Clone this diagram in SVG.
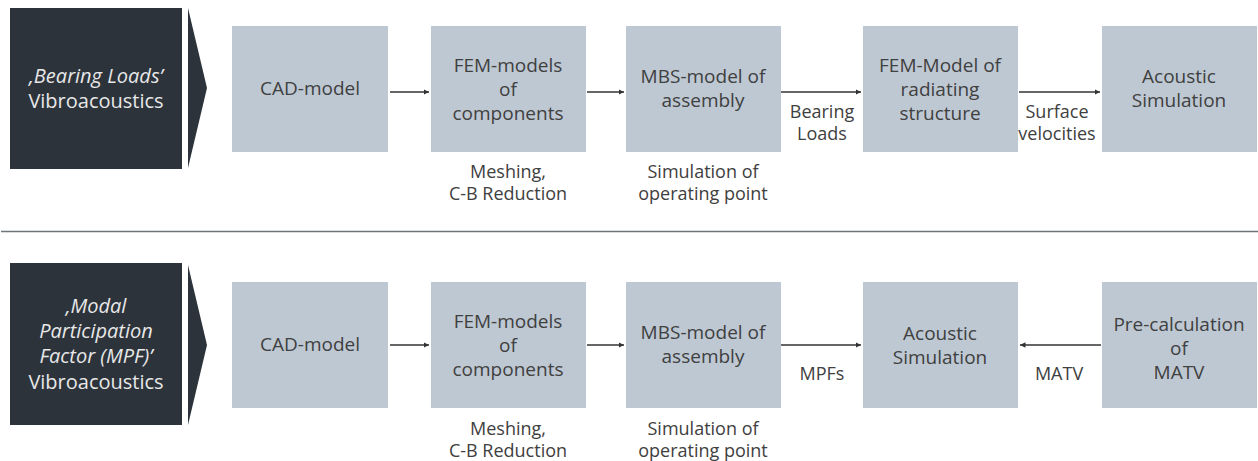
<svg xmlns="http://www.w3.org/2000/svg" width="1258" height="461" viewBox="0 0 1258 461">
<style>
.dark{fill:#2c333b}
.box{fill:#bec8d3}
.bt{font-family:"Open Sans","Noto Sans",sans-serif;font-size:19px;fill:#404040;text-anchor:middle}
.lb{font-family:"Open Sans","Noto Sans",sans-serif;font-size:18px;fill:#404040;text-anchor:middle}
.dt{font-family:"Open Sans","Noto Sans",sans-serif;font-size:20px;fill:#e8e8e8;text-anchor:middle}
.it{font-style:italic}
.conn{stroke:#333;stroke-width:1.5;fill:none;marker-end:url(#ah)}
</style>
<defs>
<marker id="ah" viewBox="0 0 10 10" refX="10" refY="5" markerWidth="5.5" markerHeight="5.5" orient="auto" markerUnits="userSpaceOnUse">
<path d="M0,0 L10,5 L0,10 z" fill="#333"/>
</marker>
</defs>
<rect width="1258" height="461" fill="#fff"/>
<line x1="1" y1="231.5" x2="1258" y2="231.5" stroke="#6e7478" stroke-width="1.5"/>

<!-- Row 1 -->
<g id="row1-header">
<rect class="dark" x="10" y="8" width="172" height="161"/>
<polygon class="dark" points="188,8 207,88 188,168"/>
<text class="dt it" x="96" y="83">‚Bearing Loads’</text>
<text class="dt" x="96" y="108">Vibroacoustics</text>
</g>
<g id="r1-cad">
<rect class="box" x="232" y="26" width="156" height="126"/>
<text class="bt" x="310" y="95">CAD-model</text>
</g>
<g id="r1-fem">
<rect class="box" x="431" y="26" width="155" height="126"/>
<text class="bt" x="508" y="72">FEM-models</text>
<text class="bt" x="508" y="96">of</text>
<text class="bt" x="508" y="120">components</text>
<text class="lb" x="508" y="178">Meshing,</text>
<text class="lb" x="508" y="200">C-B Reduction</text>
</g>
<g id="r1-mbs">
<rect class="box" x="626" y="26" width="155" height="126"/>
<text class="bt" x="703" y="83">MBS-model of</text>
<text class="bt" x="703" y="107">assembly</text>
<text class="lb" x="703" y="178">Simulation of</text>
<text class="lb" x="703" y="200">operating point</text>
</g>
<g id="r1-femrad">
<rect class="box" x="863" y="26" width="155" height="126"/>
<text class="bt" x="940" y="72">FEM-Model of</text>
<text class="bt" x="940" y="96">radiating</text>
<text class="bt" x="940" y="120">structure</text>
</g>
<g id="r1-acoustic">
<rect class="box" x="1102" y="26" width="155" height="126"/>
<text class="bt" x="1179" y="83">Acoustic</text>
<text class="bt" x="1179" y="107">Simulation</text>
</g>

<!-- Row 2 -->
<g id="row2-header">
<rect class="dark" x="10" y="263" width="172" height="162"/>
<polygon class="dark" points="188,265 207,345 188,425"/>
<text class="dt it" x="96" y="313">‚Modal</text>
<text class="dt it" x="96" y="338">Participation</text>
<text class="dt it" x="96" y="363">Factor (MPF)’</text>
<text class="dt" x="96" y="389">Vibroacoustics</text>
</g>
<g id="r2-cad">
<rect class="box" x="232" y="282" width="156" height="126"/>
<text class="bt" x="310" y="351">CAD-model</text>
</g>
<g id="r2-fem">
<rect class="box" x="431" y="282" width="155" height="126"/>
<text class="bt" x="508" y="328">FEM-models</text>
<text class="bt" x="508" y="352">of</text>
<text class="bt" x="508" y="376">components</text>
<text class="lb" x="508" y="435">Meshing,</text>
<text class="lb" x="508" y="457">C-B Reduction</text>
</g>
<g id="r2-mbs">
<rect class="box" x="626" y="282" width="155" height="126"/>
<text class="bt" x="703" y="339">MBS-model of</text>
<text class="bt" x="703" y="363">assembly</text>
<text class="lb" x="703" y="435">Simulation of</text>
<text class="lb" x="703" y="457">operating point</text>
</g>
<g id="r2-acoustic">
<rect class="box" x="863" y="282" width="155" height="126"/>
<text class="bt" x="940" y="340">Acoustic</text>
<text class="bt" x="940" y="364">Simulation</text>
</g>
<g id="r2-matv">
<rect class="box" x="1102" y="282" width="155" height="126"/>
<text class="bt" x="1179" y="331">Pre-calculation</text>
<text class="bt" x="1179" y="355">of</text>
<text class="bt" x="1179" y="379">MATV</text>
</g>

<g id="connectors">
<line class="conn" x1="390" y1="92" x2="429" y2="92"/>
<line class="conn" x1="587" y1="92" x2="624" y2="92"/>
<line class="conn" x1="781" y1="92" x2="861" y2="92"/>
<line class="conn" x1="1019" y1="92" x2="1100" y2="92"/>
<line class="conn" x1="390" y1="345" x2="429" y2="345"/>
<line class="conn" x1="587" y1="345" x2="624" y2="345"/>
<line class="conn" x1="781" y1="345" x2="861" y2="345"/>
<line class="conn" x1="1101" y1="345" x2="1020" y2="345"/>
<text class="lb" x="822" y="118">Bearing</text>
<text class="lb" x="822" y="140">Loads</text>
<text class="lb" x="1057" y="118">Surface</text>
<text class="lb" x="1057" y="140">velocities</text>
<text class="lb" x="822" y="380">MPFs</text>
<text class="lb" x="1059" y="380">MATV</text>
</g>
</svg>
